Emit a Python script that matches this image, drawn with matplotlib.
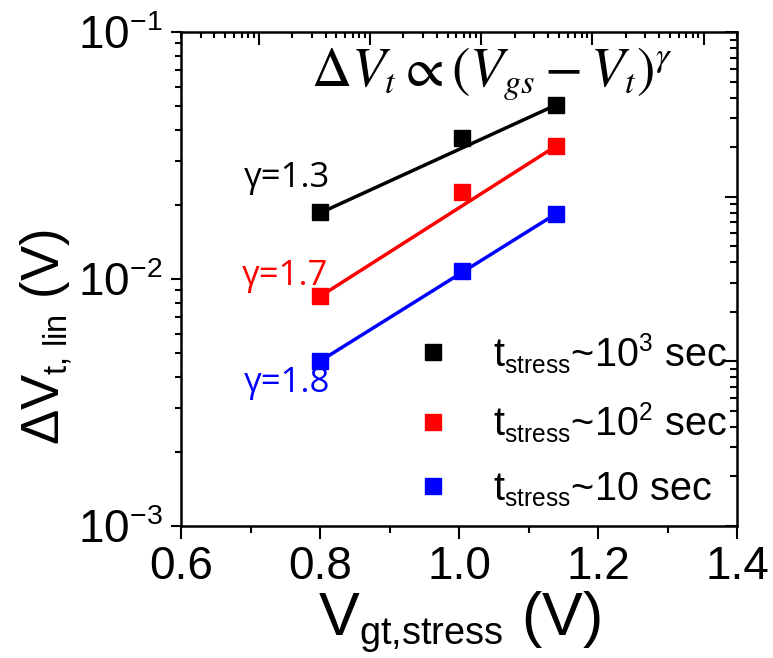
import matplotlib
matplotlib.use("Agg")
import matplotlib.pyplot as plt
import matplotlib._mathtext as _mt
from matplotlib.ticker import LogLocator, MultipleLocator, NullFormatter, LogFormatterMathtext, FormatStrFormatter

# ---- data -------------------------------------------------------------
v_gt = [0.80, 1.004, 1.14]                    # V_gt,stress (V)
dvt_1e3 = [0.0186, 0.0373, 0.0507]            # t_stress ~ 1e3 s
dvt_1e2 = [0.0085, 0.0226, 0.0346]            # t_stress ~ 1e2 s
dvt_1e1 = [0.00465, 0.0108, 0.0184]           # t_stress ~ 10 s

fit_x = [0.80, 1.14]
fit_1e3 = [0.0185, 0.0507]
fit_1e2 = [0.0085, 0.0346]
fit_1e1 = [0.00465, 0.0184]

gammas = ["1.3", "1.7", "1.8"]
series_labels = [r"t$_{\mathregular{stress}}$~10$^{\mathregular{3}}$ sec",
                 r"t$_{\mathregular{stress}}$~10$^{\mathregular{2}}$ sec",
                 r"t$_{\mathregular{stress}}$~10 sec"]
colors = ["black", "red", "blue"]

# ---- style ------------------------------------------------------------
plt.rcParams["font.family"] = ["Liberation Sans", "DejaVu Sans"]
plt.rcParams["mathtext.fontset"] = "custom"
plt.rcParams["mathtext.rm"] = "Liberation Sans"
plt.rcParams["mathtext.it"] = "Liberation Sans:italic"
plt.rcParams["mathtext.bf"] = "Liberation Sans:bold"
# smaller sub/superscripts
_mt.SHRINK_FACTOR = 0.62

W, H = 773, 658
fig = plt.figure(figsize=(W / 100, H / 100), dpi=100)
pos = [181 / W, 1 - 526 / H, (737 - 181) / W, (526 - 32) / H]
ax = fig.add_axes(pos)

# fitted lines and measured points
for fx, fy, c in zip([fit_x] * 3, [fit_1e3, fit_1e2, fit_1e1], colors):
    ax.plot(fx, fy, color=c, lw=2.5, solid_capstyle="butt", zorder=2)
for y, c, lab in zip([dvt_1e3, dvt_1e2, dvt_1e1], colors, series_labels):
    ax.plot(v_gt, y, ls="none", marker="s", ms=11, color=c, mec=c, label=lab, zorder=3)

ax.set_yscale("log")
ax.set_xlim(0.6, 1.4)
ax.set_ylim(1e-3, 1e-1)
ax.xaxis.set_major_locator(MultipleLocator(0.2))
ax.xaxis.set_minor_locator(MultipleLocator(0.1))
ax.xaxis.set_major_formatter(FormatStrFormatter("%.1f"))
ax.yaxis.set_major_locator(LogLocator(base=10, numticks=10))
ax.yaxis.set_minor_locator(LogLocator(base=10, subs=range(2, 10), numticks=20))
ax.yaxis.set_major_formatter(LogFormatterMathtext())
ax.yaxis.set_minor_formatter(NullFormatter())

ax.tick_params(which="both", direction="out", top=False, right=False, width=1.5,
               labelsize=33, pad=5)
ax.tick_params(axis="x", which="major", length=9)
ax.tick_params(axis="x", which="minor", length=5)
ax.tick_params(axis="y", which="major", length=7.5, pad=6)
ax.tick_params(axis="y", which="minor", length=4)
for s in ax.spines.values():
    s.set_linewidth(1.8)

ax.set_xlabel(r"V$_{\mathregular{gt{,}stress}}$ (V)", fontsize=44, labelpad=0)
ax.set_ylabel(r"$\Delta$V$_{\mathregular{t{,}\ lin}}$ (V)", fontsize=38)
ax.yaxis.set_label_coords(-0.19, 0.383)

# secondary log frame carrying the top and right tick marks
ax2 = fig.add_axes(pos, facecolor="none")
ax2.set_xscale("log")
ax2.set_yscale("log")
ax2.set_xlim(2, 2e5)
ax2.set_ylim(1, 1e3)
ax2.xaxis.tick_top()
ax2.yaxis.tick_right()
ax2.xaxis.set_minor_locator(LogLocator(base=10, subs=range(2, 10), numticks=20))
ax2.yaxis.set_minor_locator(LogLocator(base=10, subs=range(2, 10), numticks=20))
ax2.tick_params(which="both", direction="in", width=1.5, labeltop=False,
                labelright=False, labelbottom=False, labelleft=False)
ax2.tick_params(axis="x", which="major", length=9)
ax2.tick_params(axis="x", which="minor", length=4)
ax2.tick_params(axis="y", which="major", length=9)
ax2.tick_params(axis="y", which="minor", length=5)
for s in ax2.spines.values():
    s.set_visible(False)

# annotations
ax.text(0.56, 0.915, r"$\Delta V_t \propto (V_{gs} - V_t)^{\gamma}$", transform=ax.transAxes,
        fontsize=40, math_fontfamily="stix", ha="center", va="center")
gamma_pos = [(287, 178), (285, 276), (287, 383)]
for g, c, (px, py) in zip(gammas, colors, gamma_pos):
    fig.text(px / W, 1 - py / H, "\u03b3=" + g, color=c, fontsize=25,
             family=["Open Sans", "DejaVu Sans"], ha="center", va="center")

leg = ax.legend(loc="center", bbox_to_anchor=(0.703, 0.215), frameon=False, fontsize=28.5,
                handlelength=0.8, handletextpad=1.1, labelspacing=0.63, borderpad=0,
                markerscale=1.0)

fig.savefig("out.png", dpi=100)
